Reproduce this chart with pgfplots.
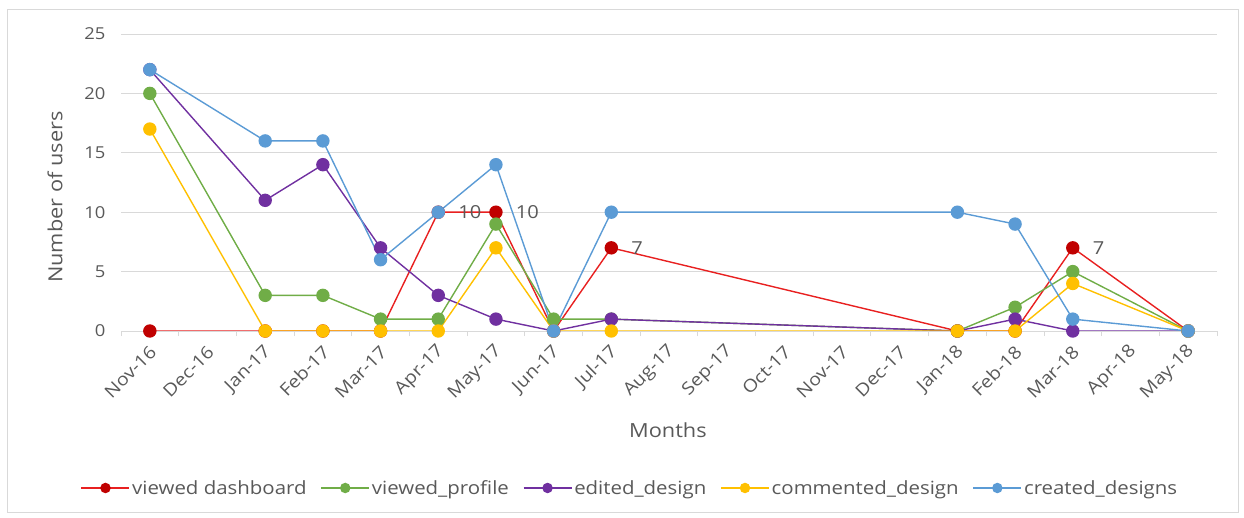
\documentclass[border=0pt]{standalone}
\usepackage{pgfplots}
\usepackage{pgfplotstable}
\pgfplotsset{compat=1.18}
\usepackage{fontspec}
\setmainfont{Open Sans}[FakeStretch=1.12]
\definecolor{cred}{HTML}{E82020}
\definecolor{cdred}{HTML}{C00000}
\definecolor{cgreen}{HTML}{70AD47}
\definecolor{cpurple}{HTML}{7030A0}
\definecolor{cyellow}{HTML}{FFC000}
\definecolor{cblue}{HTML}{5B9BD5}
\definecolor{ctext}{HTML}{595959}
\definecolor{cgrid}{HTML}{D9D9D9}
\pgfplotstableread{
x red green purple yellow blue
0 0 20 22 17 22
2 0 3 11 0 16
3 0 3 14 0 16
4 0 1 7 0 6
5 10 1 3 0 10
6 10 9 1 7 14
7 0 1 0 0 0
8 7 1 1 0 10
14 0 0 0 0 10
15 0 2 1 0 9
16 7 5 0 4 1
18 0 0 0 0 0
}\data
\begin{document}
\begin{tikzpicture}
\path[use as bounding box] (0bp,0bp) rectangle (1244bp,518bp);
\draw[cgrid, line width=0.8bp] (7bp,6bp) rectangle (1238bp,509bp);
\begin{axis}[
  at={(121bp,187bp)}, anchor=south west,
  scale only axis, width=1096bp, height=297bp,
  xmin=-0.5, xmax=18.5, ymin=0, ymax=25,
  ytick={0,5,...,25},
  xtick={0,...,18},
  xticklabels={Nov-16,Dec-16,Jan-17,Feb-17,Mar-17,Apr-17,May-17,Jun-17,Jul-17,Aug-17,Sep-17,Oct-17,Nov-17,Dec-17,Jan-18,Feb-18,Mar-18,Apr-18,May-18},
  minor xtick={-0.5,0.5,...,18.5},
  major tick length=0pt,
  minor tick length=5bp,
  tick align=outside,
  minor tick style={cgrid, line width=0.8bp},
  axis lines*=left,
  x axis line style={cgrid, line width=0.8bp},
  y axis line style={draw=none},
  ymajorgrids, grid style={cgrid, line width=0.8bp},
  /pgf/number format/assume math mode=true,
  tick label style={text=ctext},
  yticklabel style={font=\fontsize{16.5}{19}\selectfont, xshift=-12bp},
  xticklabel style={font=\fontsize{17.5}{20}\selectfont, rotate=45, anchor=east, yshift=-15bp, xshift=-7bp},
  xlabel={Months}, ylabel={Number of users},
  label style={font=\fontsize{19.5}{22}\selectfont, text=ctext},
  xlabel style={at={(axis description cs:0.499,-0.333)}, anchor=center},
  ylabel style={at={(axis description cs:-0.0602,0.451)}, anchor=center},
  legend columns=5,
  legend style={draw=none, fill=none, at={(axis description cs:0.4644,-0.5286)}, anchor=center,
    font=\fontsize{18.3}{21}\selectfont, text=ctext,
    /tikz/every even column/.append style={column sep=12bp}},
  legend image code/.code={\draw[mark repeat=2, mark phase=2, #1, mark size=4.5bp] plot coordinates {(0bp,0bp)(24bp,0bp)(48bp,0bp)};},
  every axis plot/.append style={line width=1.4bp, mark=*, mark size=6bp},
]
\addplot[cred, mark options={fill=cdred, draw=cdred}] table[x=x, y=red] {\data};
\addlegendentry{viewed dashboard}
\addplot[cgreen, mark options={fill=cgreen, draw=cgreen}] table[x=x, y=green] {\data};
\addlegendentry{viewed\_profile}
\addplot[cpurple, mark options={fill=cpurple, draw=cpurple}] table[x=x, y=purple] {\data};
\addlegendentry{edited\_design}
\addplot[cyellow, mark options={fill=cyellow, draw=cyellow}] table[x=x, y=yellow] {\data};
\addlegendentry{commented\_design}
\addplot[cblue, mark options={fill=cblue, draw=cblue}] table[x=x, y=blue] {\data};
\addlegendentry{created\_designs}
\addplot[draw=none, mark=none, forget plot, point meta=explicit symbolic,
  nodes near coords, nodes near coords style={anchor=west, xshift=16bp, font=\fontsize{18}{21}\selectfont, text=ctext}]
  coordinates {(5,10)[10] (6,10)[10] (8,7)[7] (16,7)[7]};
\end{axis}
\end{tikzpicture}
\end{document}
